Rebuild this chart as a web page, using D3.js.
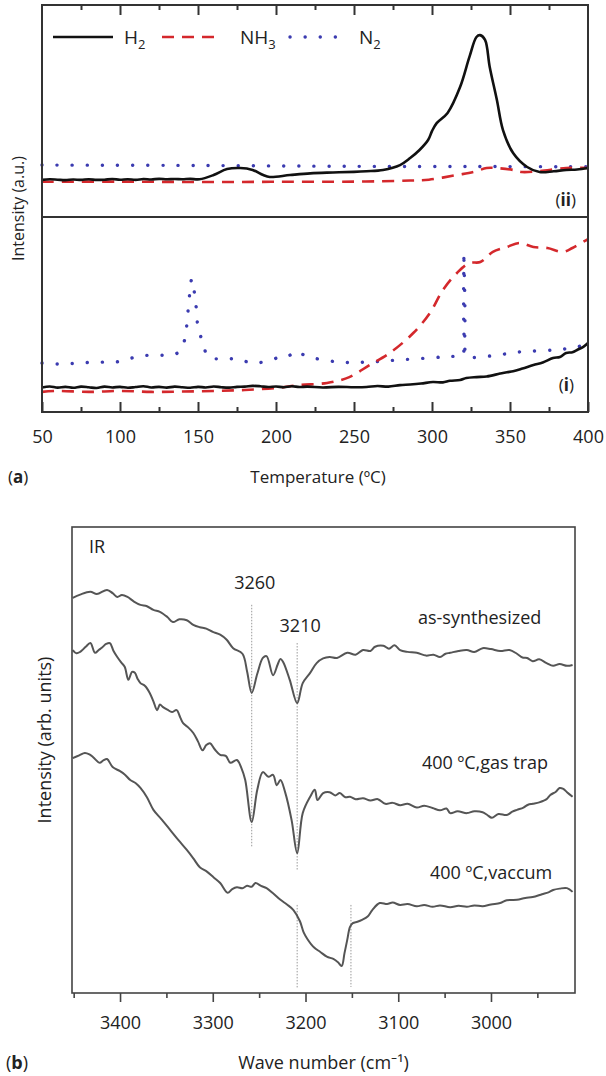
<!DOCTYPE html>
<html><head><meta charset="utf-8">
<script src="https://cdn.jsdelivr.net/npm/d3@7"></script>
<style>
body{margin:0;background:#fff}
svg{display:block}
text{font-family:"Open Sans","Noto Sans",sans-serif;fill:#222}
</style>
</head><body>
<svg id="c" width="606" height="1076"></svg>
<script>
// ---------- Panel (a) data : temperature (°C) vs intensity (a.u.) ----------
const tempTicks = [50,100,150,200,250,300,350,400];
const tempMinor = [75,125,175,225,275,325,375];

// upper trace (ii)
const h2Upper = [[50,17.5],[55,17.8],[60,17.6],[65,17.4],[70,17.7],[75,17.5],[80,17.8],[85,17.5],[90,17.6],[95,17.9],[100,17.6],[105,17.8],[110,17.5],[115,17.9],[120,17.7],[125,18.0],[130,17.8],[135,17.9],[140,17.8],[145,18.0],[151,17.8],[160,19.8],[168.6,22.6],[177,23.1],[185,22.2],[191.8,19.8],[196,18.9],[209,19.8],[222,20.6],[236.5,21.0],[250,21.3],[258,21.6],[268.6,22.2],[279.5,24.5],[286,27.8],[292,31.6],[297.5,36.3],[300,40.5],[303,44.3],[310,49.1],[318,61.3],[324,75.5],[328.5,84.9],[330.8,85.8],[334,83.5],[337,70.8],[341.6,55.2],[345.5,41.0],[352,30.2],[361,23.6],[369,21.2],[378,21.6],[386,22.2],[393,22.4],[400,23.1]];
const nh3Upper = [[50,16.6],[100,16.7],[150,16.5],[200,16.6],[250,16.7],[286,17.2],[298,17.6],[316,19.8],[326.6,21.2],[335,23.1],[341,23.1],[352,22.2],[357.7,21.2],[369,21.7],[386,23.1],[400,23.1]];
const n2Upper = [[50,24.5],[150,24.3],[250,23.9],[330,23.8],[400,23.7]];

// lower trace (i)
const h2Lower = [[50,12.6],[55,13.1],[60,12.5],[65,12.9],[70,12.4],[75,13.0],[80,12.7],[85,12.3],[90,13.0],[95,12.6],[100,12.9],[105,12.4],[110,12.8],[115,13.2],[120,12.6],[125,12.9],[130,12.5],[135,13.0],[140,12.7],[145,12.4],[150,12.9],[155,12.6],[160,13.1],[165,12.7],[170,12.5],[175,12.9],[180,13.0],[185,13.4],[190,13.2],[195,12.8],[200,13.1],[205,12.7],[210,13.2],[215,12.8],[220,13.0],[230,12.6],[240,12.9],[250,12.7],[258,12.8],[265,13.3],[272,13.0],[279.5,13.8],[286,14.1],[293,14.6],[300.6,15.4],[307,15.2],[311.5,16.0],[318,16.4],[322,17.4],[328.6,17.9],[335,18.2],[343.6,19.7],[348,20.4],[352,20.9],[358,22.3],[365,24.1],[371,25.4],[377.6,27.7],[382,28.2],[386,30.3],[390,30.6],[393,31.8],[397,33.4],[400,35.4]];
const nh3Lower = [[50,10.3],[60,10.8],[80,10.3],[100,10.8],[120,10.3],[140,10.5],[160,10.8],[180,11.3],[200,12.3],[215,13.8],[232.7,14.9],[247,17.9],[260,24.1],[273,30.3],[288,40.5],[298.7,50.8],[307,62.6],[316,71.3],[324,76.4],[331,76.9],[339,82.1],[348,84.6],[356,86.7],[365,84.6],[374,84.1],[384,82.1],[390,84.1],[400,88.7]];
const n2Lower = [[50,25.1],[60,24.6],[70,24.9],[80,25.4],[90,25.6],[100,25.9],[110,28.2],[120,29.2],[130,29.2],[138,30.8],[142,39.0],[143,47.2],[144,54.9],[145,63.1],[146,68.2],[148,59.5],[149,52.3],[150,43.6],[153,35.9],[156.7,28.2],[165,27.2],[175,27.2],[185,25.1],[195,26.2],[202.6,28.2],[208,28.7],[213,31.3],[216.6,29.7],[224,27.7],[241,25.6],[258,25.6],[279,26.7],[307,28.2],[318,28.7],[319.6,28.7],[320.4,82.1],[320.9,34.4],[322.5,28.7],[337,28.7],[356,30.8],[377.6,31.8],[393,33.3],[400,35.4]];

// ---------- Panel (b) data : IR wave number (cm-1) vs intensity (arb. units) ----------
const waveTicks = [3400,3300,3200,3100,3000];
const waveMinor = [3450,3350,3250,3150,3050,2950];

const irAsSynth = [[3451,84.8],[3443,85.5],[3432,86.1],[3425,85.6],[3414,86.5],[3408,85.8],[3403,85.0],[3398,85.4],[3392,85.0],[3385,84.0],[3378,83.3],[3371,83.0],[3364,82.2],[3357,81.8],[3349,80.7],[3343,79.6],[3336,80.2],[3328,80.0],[3321,79.0],[3314,78.5],[3307,78.2],[3300,77.5],[3292,76.9],[3285,75.8],[3278,74.0],[3268,72.8],[3263,69.0],[3258,64.4],[3252,68.5],[3246,71.9],[3242,72.3],[3235,68.2],[3230,70.5],[3227,71.7],[3224,71.0],[3217,67.2],[3209,62.2],[3203,66.5],[3195,68.7],[3188,70.8],[3181,71.8],[3174,72.1],[3166,71.9],[3155,73.0],[3146,72.6],[3138,73.6],[3130,73.4],[3125,74.3],[3116,74.5],[3110,73.9],[3104,74.6],[3098,73.6],[3090,73.2],[3080,73.0],[3070,72.4],[3062,72.6],[3055,72.1],[3049,72.8],[3044,73.0],[3035,73.4],[3026,73.6],[3018,73.2],[3009,74.0],[3000,73.8],[2990,73.4],[2980,73.6],[2972,72.8],[2966,72.0],[2961,71.9],[2955,71.2],[2948,71.6],[2940,70.8],[2933,70.2],[2926,70.6],[2918,70.2],[2912,70.4]];
const irGasTrap = [[3451,73.6],[3447,72.9],[3443,73.2],[3437,74.3],[3432,75.1],[3427,73.0],[3423,73.6],[3419,74.2],[3415,74.9],[3411,75.1],[3407,73.4],[3403,72.1],[3399,71.0],[3395,70.0],[3391,67.2],[3387,68.9],[3384,68.7],[3381,67.4],[3378,66.5],[3373,65.9],[3368,64.4],[3364,62.6],[3360,60.7],[3357,61.9],[3354,61.4],[3349,60.8],[3344,60.3],[3339,60.7],[3335,59.1],[3332,57.9],[3326,56.9],[3321,55.8],[3316,54.0],[3311,52.1],[3307,53.2],[3303,53.6],[3298,52.3],[3292,51.1],[3286,50.9],[3281,49.4],[3274,50.0],[3269,48.2],[3265,45.7],[3258,36.7],[3252,43.6],[3246,47.4],[3240,46.4],[3235,46.8],[3231,44.6],[3227,45.7],[3222,43.1],[3215,37.1],[3209,30.0],[3203,38.6],[3195,42.1],[3190,43.6],[3187,41.4],[3181,42.9],[3174,43.1],[3168,42.4],[3163,42.9],[3157,42.0],[3152,42.1],[3146,41.6],[3138,41.8],[3130,41.3],[3122,41.6],[3114,40.6],[3106,40.8],[3098,40.3],[3090,40.6],[3080,39.8],[3072,40.2],[3063,39.7],[3055,39.2],[3048,39.6],[3044,38.6],[3036,39.0],[3026,38.6],[3018,39.0],[3009,38.8],[3004,38.2],[2999,37.6],[2992,38.4],[2983,38.2],[2977,38.9],[2972,39.3],[2965,39.8],[2960,40.4],[2955,40.6],[2948,40.9],[2944,41.2],[2940,41.6],[2936,42.5],[2930,43.2],[2926,44.0],[2922,43.8],[2918,43.1],[2912,42.1]];
const irVacuum = [[3451,50.4],[3444,51.0],[3438,51.5],[3433,51.2],[3429,50.6],[3422,49.4],[3418,49.9],[3414,50.2],[3408,48.5],[3400,47.6],[3395,46.9],[3389,45.7],[3383,45.0],[3378,44.0],[3371,42.0],[3364,39.3],[3355,37.2],[3346,35.0],[3337,32.8],[3328,30.7],[3321,28.9],[3314,27.0],[3306,26.0],[3299,24.8],[3292,23.6],[3284,21.5],[3279,22.3],[3274,22.7],[3268,22.5],[3263,23.0],[3258,22.8],[3254,23.6],[3248,23.0],[3242,22.5],[3235,21.4],[3227,20.0],[3220,19.0],[3213,17.8],[3206,15.4],[3202,13.0],[3198,11.6],[3191,9.8],[3184,8.8],[3177,7.8],[3170,7.3],[3165,6.6],[3161,5.8],[3158,8.5],[3155,11.4],[3152,14.2],[3149,15.0],[3144,15.3],[3139,15.7],[3133,16.4],[3128,17.8],[3120,19.3],[3112,19.1],[3106,19.4],[3098,18.9],[3090,19.1],[3080,18.6],[3072,18.9],[3063,18.5],[3055,18.8],[3044,18.4],[3035,18.7],[3026,18.5],[3018,18.8],[3009,18.6],[3000,19.0],[2990,19.3],[2983,19.9],[2972,20.0],[2963,20.4],[2955,20.6],[2945,21.2],[2938,21.6],[2933,22.1],[2926,22.4],[2918,22.5],[2912,21.7]];
// dotted guide lines: wave number, from / to intensity
const guideWave = [3258,3209,3209,3151];
const guideFrom = [83.3,75.1,18.9,18.9];
const guideTo   = [31.3,26.4,1.1,1.3];
const sampleLabels = ["as-synthesized","400 ºC,gas trap","400 ºC,vaccum"];
const peakLabels = ["3260","3210"];

// ---------- drawing ----------
const svg = d3.select("#c");
const FONT = '"Open Sans","Noto Sans",sans-serif';
const smooth = d3.curveCatmullRom.alpha(0.5);

// ===== panel a =====
const aL=42, aR=588, aT=5, aM=217, aB=412;
const xA = d3.scaleLinear().domain([50,400]).range([aL,aR]);
const yUp = d3.scaleLinear().domain([0,100]).range([aM,aT]);
const yLo = d3.scaleLinear().domain([0,100]).range([aB,aM]);

const gA = svg.append("g");
const lineUp = d3.line().x(d=>xA(d[0])).y(d=>yUp(d[1])).curve(smooth);
const lineLo = d3.line().x(d=>xA(d[0])).y(d=>yLo(d[1])).curve(smooth);

const sH2 = {stroke:"#111", "stroke-width":2.6, fill:"none", "stroke-linejoin":"round"};
const sNH3 = {stroke:"#d4282c", "stroke-width":2.6, fill:"none", "stroke-dasharray":"12,8"};
const sN2 = {stroke:"#3b3bb0", "stroke-width":3.4, fill:"none", "stroke-dasharray":"0.1,15", "stroke-linecap":"round"};
function styl(sel, s){ for(const k in s) sel.attr(k, s[k]); return sel; }

styl(gA.append("path").attr("d", lineUp(n2Upper)), sN2);
styl(gA.append("path").attr("d", lineUp(nh3Upper)), sNH3);
styl(gA.append("path").attr("d", lineUp(h2Upper)), sH2);
styl(gA.append("path").attr("d", lineLo(n2Lower)), sN2);
styl(gA.append("path").attr("d", lineLo(nh3Lower)), sNH3);
styl(gA.append("path").attr("d", lineLo(h2Lower)), sH2);

// frame
gA.append("rect").attr("x",aL).attr("y",aT).attr("width",aR-aL).attr("height",aB-aT)
  .attr("fill","none").attr("stroke","#333").attr("stroke-width",2);
gA.append("line").attr("x1",aL).attr("x2",aR).attr("y1",aM).attr("y2",aM)
  .attr("stroke","#333").attr("stroke-width",2);

// bottom axis (ticks inward)
const axB = d3.axisBottom(xA).tickValues(tempTicks).tickSizeInner(-10).tickSizeOuter(0).tickPadding(18);
const gAx = gA.append("g").attr("transform",`translate(0,${aB})`).call(axB);
gAx.select(".domain").remove();
gAx.selectAll("line").attr("stroke","#333").attr("stroke-width",2);
gAx.selectAll("text").attr("font-size",18).attr("font-family",FONT).attr("fill","#222");
const axBm = d3.axisBottom(xA).tickValues(tempMinor).tickSize(-5).tickFormat("");
const gAxm = gA.append("g").attr("transform",`translate(0,${aB})`).call(axBm);
gAxm.select(".domain").remove(); gAxm.selectAll("line").attr("stroke","#333").attr("stroke-width",2);
// top axis ticks (inward)
const axT = d3.axisTop(xA).tickValues(tempTicks.slice(1,-1)).tickSize(-10).tickFormat("");
const gAt = gA.append("g").attr("transform",`translate(0,${aT})`).call(axT);
gAt.select(".domain").remove(); gAt.selectAll("line").attr("stroke","#333").attr("stroke-width",2);
const axTm = d3.axisTop(xA).tickValues(tempMinor).tickSize(-5).tickFormat("");
const gAtm = gA.append("g").attr("transform",`translate(0,${aT})`).call(axTm);
gAtm.select(".domain").remove(); gAtm.selectAll("line").attr("stroke","#333").attr("stroke-width",2);

// labels
gA.append("text").attr("x",(aL+aR)/2+3).attr("y",483).attr("text-anchor","middle")
  .attr("font-size",17).text("Temperature (ºC)");
const ta = gA.append("text").attr("x",8).attr("y",483).attr("font-size",17);
ta.append("tspan").text("("); ta.append("tspan").attr("font-weight","bold").text("a"); ta.append("tspan").text(")");
gA.append("text").attr("transform",`translate(24,${(aT+aB)/2}) rotate(-90)`).attr("text-anchor","middle")
  .attr("font-size",16).text("Intensity (a.u.)");
function romanLabel(x,y,r){
  const t = gA.append("text").attr("x",x).attr("y",y).attr("text-anchor","end").attr("font-size",17);
  t.append("tspan").text("("); t.append("tspan").attr("font-weight","bold").text(r); t.append("tspan").text(")");
}
romanLabel(576,206,"ii");
romanLabel(574,391,"i");

// legend
const legY = 37;
const leg = [{s:sH2,x:53,tx:124,b:"H",sub:"2"},{s:sNH3,x:162,tx:240,b:"NH",sub:"3"},{s:sN2,x:290,tx:359,b:"N",sub:"2"}];
leg.forEach(L=>{
  styl(gA.append("line").attr("x1",L.x).attr("x2",L.x+(L.s===sN2?51:60)).attr("y1",legY).attr("y2",legY), L.s);
  const t = gA.append("text").attr("x",L.tx).attr("y",legY+7).attr("font-size",19);
  t.append("tspan").text(L.b);
  t.append("tspan").attr("font-size",13).attr("dy",5).text(L.sub);
});

// ===== panel b =====
const bL=72, bR=575, bT=527, bB=993;
const xB = d3.scaleLinear().domain([3451.8,2909.4]).range([bL,bR]);
const yB = d3.scaleLinear().domain([0,100]).range([bB,bT]);
const gB = svg.append("g");
const lineB = d3.line().x(d=>xB(d[0])).y(d=>yB(d[1])).curve(smooth);

guideWave.forEach((w,i)=>{
  gB.append("line").attr("x1",xB(w)).attr("x2",xB(w)).attr("y1",yB(guideFrom[i])).attr("y2",yB(guideTo[i]))
    .attr("stroke","#999").attr("stroke-width",1).attr("stroke-dasharray","1.5,1.5");
});
[irAsSynth, irGasTrap, irVacuum].forEach(s=>{
  gB.append("path").attr("d",lineB(s)).attr("fill","none").attr("stroke","#555")
    .attr("stroke-width",2).attr("stroke-linejoin","round");
});
gB.append("rect").attr("x",bL).attr("y",bT).attr("width",bR-bL).attr("height",bB-bT)
  .attr("fill","none").attr("stroke","#444").attr("stroke-width",1.6);

const axBB = d3.axisBottom(xB).tickValues(waveTicks).tickSizeInner(9).tickSizeOuter(0).tickPadding(14).tickFormat(d3.format("d"));
const gBx = gB.append("g").attr("transform",`translate(0,${bB})`).call(axBB);
gBx.select(".domain").remove();
gBx.selectAll("line").attr("stroke","#444").attr("stroke-width",1.6);
gBx.selectAll("text").attr("font-size",18).attr("font-family",FONT).attr("fill","#222");
const axBBm = d3.axisBottom(xB).tickValues(waveMinor).tickSize(5).tickFormat("");
const gBxm = gB.append("g").attr("transform",`translate(0,${bB})`).call(axBBm);
gBxm.select(".domain").remove(); gBxm.selectAll("line").attr("stroke","#444").attr("stroke-width",1.6);

gB.append("text").attr("x",(bL+bR)/2).attr("y",1069).attr("text-anchor","middle").attr("font-size",18)
  .text("Wave number (cm⁻¹)");
const tb = gB.append("text").attr("x",6).attr("y",1069).attr("font-size",18);
tb.append("tspan").text("("); tb.append("tspan").attr("font-weight","bold").text("b"); tb.append("tspan").text(")");
gB.append("text").attr("transform",`translate(51,740) rotate(-90)`).attr("text-anchor","middle")
  .attr("font-size",18).text("Intensity (arb. units)");
gB.append("text").attr("x",89).attr("y",553).attr("font-size",18).text("IR");
gB.append("text").attr("x",xB(3258)+3).attr("y",589).attr("text-anchor","middle").attr("font-size",18).text(peakLabels[0]);
gB.append("text").attr("x",xB(3209)+3).attr("y",632).attr("text-anchor","middle").attr("font-size",18).text(peakLabels[1]);
gB.append("text").attr("x",418).attr("y",624).attr("font-size",18).text(sampleLabels[0]);
gB.append("text").attr("x",422).attr("y",769).attr("font-size",18).text(sampleLabels[1]);
gB.append("text").attr("x",430).attr("y",879).attr("font-size",18).text(sampleLabels[2]);
</script>
</body></html>
